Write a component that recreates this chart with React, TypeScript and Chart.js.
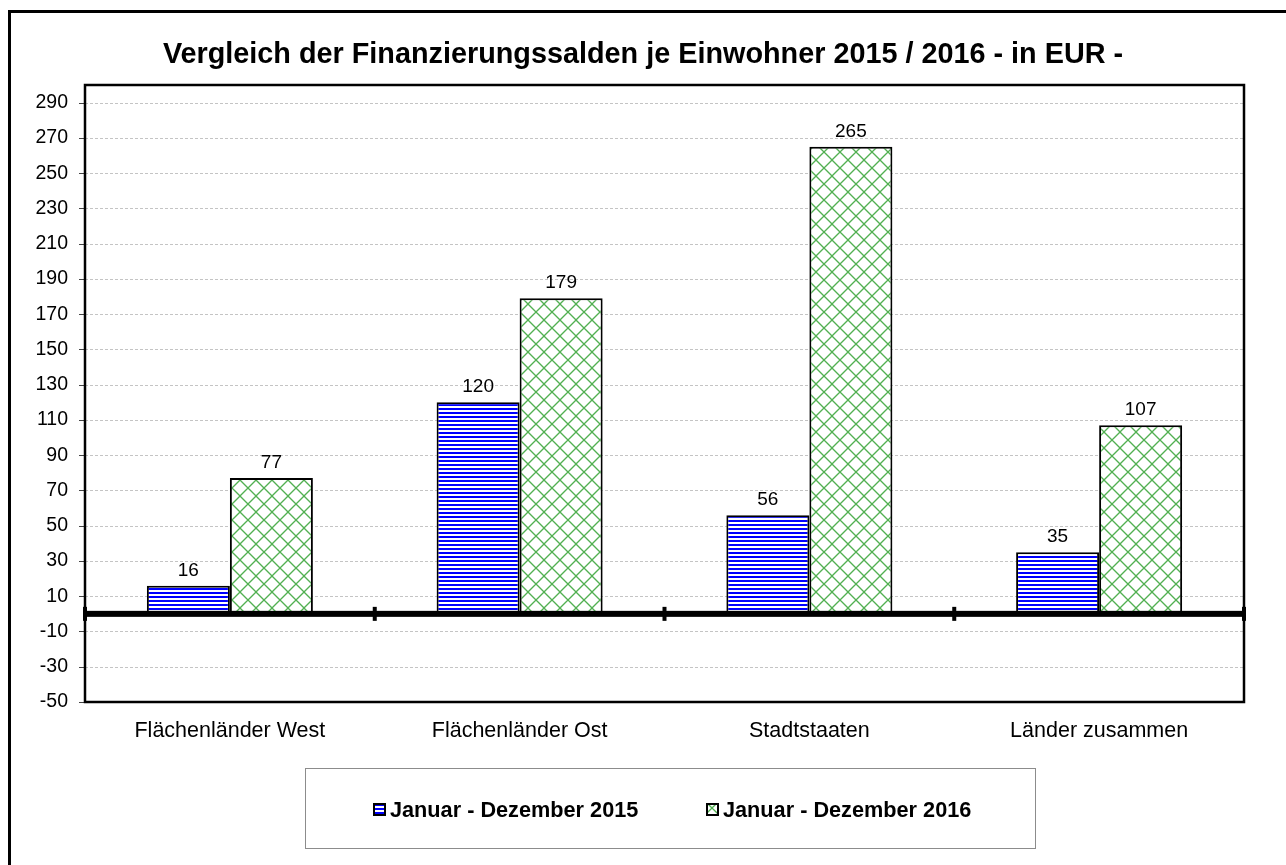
import { useEffect, useRef } from "react";
import { Chart, registerables } from "chart.js";

Chart.register(...registerables);

const chartTitle = "Vergleich der Finanzierungssalden je Einwohner 2015 / 2016 - in EUR -";
const categories = ["Flächenländer West", "Flächenländer Ost", "Stadtstaaten", "Länder zusammen"];
const seriesLabels = ["Januar - Dezember 2015", "Januar - Dezember 2016"];
const values2015 = [16, 120, 56, 35];
const values2016 = [77, 179, 265, 107];
const yTicks = [-50, -30, -10, 10, 30, 50, 70, 90, 110, 130, 150, 170, 190, 210, 230, 250, 270, 290];
const yMin = -50;
const yMax = 300;

const FONT = '"Liberation Sans", Arial, Helvetica, sans-serif';

function makeStripePattern(ctx: CanvasRenderingContext2D): CanvasPattern | string {
  const c = document.createElement("canvas");
  c.width = 4;
  c.height = 4;
  const g = c.getContext("2d")!;
  g.fillStyle = "#ffffff";
  g.fillRect(0, 0, 4, 4);
  g.fillStyle = "#0000ff";
  g.fillRect(0, 0, 4, 2);
  return ctx.createPattern(c, "repeat") || "#0000ff";
}

function makeCrossPattern(ctx: CanvasRenderingContext2D): CanvasPattern | string {
  const s = 16;
  const c = document.createElement("canvas");
  c.width = s;
  c.height = s;
  const g = c.getContext("2d")!;
  g.fillStyle = "#ffffff";
  g.fillRect(0, 0, s, s);
  g.strokeStyle = "#52b052";
  g.lineWidth = 1.3;
  for (let k = -1; k <= 1; k++) {
    g.beginPath();
    g.moveTo(-2, -2 + k * s);
    g.lineTo(s + 2, s + 2 + k * s);
    g.stroke();
  }
  for (let k = 0; k <= 2; k++) {
    g.beginPath();
    g.moveTo(-2, k * s + 2);
    g.lineTo(s + 2, k * s - s - 2);
    g.stroke();
  }
  return ctx.createPattern(c, "repeat") || "#52b052";
}

export default function App() {
  const canvasRef = useRef<HTMLCanvasElement | null>(null);

  useEffect(() => {
    const canvas = canvasRef.current;
    if (!canvas) return;
    const ctx0 = canvas.getContext("2d")!;
    const pat2015 = makeStripePattern(ctx0);
    const pat2016 = makeCrossPattern(ctx0);
    const patterns = [pat2015, pat2016];

    const decor = {
      id: "decor",
      beforeDraw(chart: any) {
        const ctx = chart.ctx as CanvasRenderingContext2D;
        ctx.save();
        ctx.fillStyle = "#ffffff";
        ctx.fillRect(0, 0, chart.width, chart.height);
        // outer frame
        ctx.strokeStyle = "#000";
        ctx.lineWidth = 3;
        ctx.strokeRect(9.5, 11.5, chart.width + 40, chart.height + 40);
        // title
        ctx.fillStyle = "#000";
        ctx.font = `bold 28.8px ${FONT}`;
        ctx.textAlign = "center";
        ctx.textBaseline = "alphabetic";
        ctx.fillText(chartTitle, 643, 63);
        // legend box
        ctx.strokeStyle = "#8c8c8c";
        ctx.lineWidth = 1;
        ctx.strokeRect(305.5, 768.5, 730, 80);
        const starts = [373, 706];
        ctx.font = `bold 21.7px ${FONT}`;
        ctx.textAlign = "left";
        seriesLabels.forEach((lab, i) => {
          const x = starts[i];
          ctx.fillStyle = patterns[i] as any;
          ctx.fillRect(x, 803, 13, 13);
          ctx.strokeStyle = "#000";
          ctx.lineWidth = 2;
          ctx.strokeRect(x + 1, 804, 11, 11);
          ctx.fillStyle = "#000";
          ctx.fillText(lab, x + 17, 817);
        });
        ctx.restore();
      },
      beforeDatasetsDraw(chart: any) {
        const ctx = chart.ctx as CanvasRenderingContext2D;
        const a = chart.chartArea;
        const y = chart.scales.y;
        ctx.save();
        ctx.lineWidth = 1;
        ctx.setLineDash([3, 2]);
        ctx.strokeStyle = "#c4c4c4";
        yTicks.forEach((v) => {
          const py = Math.round(y.getPixelForValue(v)) + 0.5;
          ctx.beginPath();
          ctx.moveTo(a.left, py);
          ctx.lineTo(a.right, py);
          ctx.stroke();
        });
        ctx.setLineDash([]);
        ctx.strokeStyle = "#444";
        yTicks.forEach((v) => {
          const py = Math.round(y.getPixelForValue(v)) + 0.5;
          ctx.beginPath();
          ctx.moveTo(a.left - 6, py);
          ctx.lineTo(a.left, py);
          ctx.stroke();
        });
        ctx.restore();
      },
      afterDatasetsDraw(chart: any) {
        const ctx = chart.ctx as CanvasRenderingContext2D;
        const a = chart.chartArea;
        const y = chart.scales.y;
        const x = chart.scales.x;
        ctx.save();
        // zero line
        const y0 = y.getPixelForValue(0);
        ctx.fillStyle = "#000";
        ctx.fillRect(a.left - 1, y0 - 3, a.right - a.left + 3, 6);
        // category boundary ticks
        const bounds: number[] = [a.left];
        for (let i = 0; i < categories.length - 1; i++) {
          bounds.push((x.getPixelForValue(i) + x.getPixelForValue(i + 1)) / 2);
        }
        bounds.push(a.right);
        bounds.forEach((bx) => {
          ctx.fillRect(bx - 2, y0 - 7, 4, 14);
        });
        // plot border
        ctx.strokeStyle = "#000";
        ctx.lineWidth = 2.5;
        ctx.strokeRect(a.left, a.top, a.right - a.left, a.bottom - a.top);
        // value labels
        ctx.fillStyle = "#000";
        ctx.font = `19px ${FONT}`;
        ctx.textAlign = "center";
        ctx.textBaseline = "alphabetic";
        chart.data.datasets.forEach((ds: any, i: number) => {
          const meta = chart.getDatasetMeta(i);
          meta.data.forEach((bar: any, j: number) => {
            ctx.fillText(String(ds.data[j]), bar.x, bar.y - 10);
          });
        });
        ctx.restore();
      },
    };

    const chart = new Chart(canvas, {
      type: "bar",
      data: {
        labels: categories,
        datasets: [
          {
            label: seriesLabels[0],
            data: values2015,
            backgroundColor: pat2015 as any,
            borderColor: "#000",
            borderWidth: 2,
            barPercentage: 1,
            categoryPercentage: 0.573,
          },
          {
            label: seriesLabels[1],
            data: values2016,
            backgroundColor: pat2016 as any,
            borderColor: "#000",
            borderWidth: 2,
            barPercentage: 1,
            categoryPercentage: 0.573,
          },
        ],
      },
      options: {
        responsive: false,
        animation: false,
        layout: { padding: { top: 85, right: 42, left: 0, bottom: 0 } },
        plugins: {
          legend: { display: false },
          title: { display: false },
          tooltip: { enabled: false },
        },
        scales: {
          x: {
            grid: { display: false },
            border: { display: false },
            ticks: {
              color: "#000",
              font: { family: FONT, size: 21.5 },
              padding: 8,
              maxRotation: 0,
              autoSkip: false,
            },
            afterFit: (s: any) => {
              s.height = 163;
            },
          },
          y: {
            min: yMin,
            max: yMax,
            grid: { display: true, color: "rgba(0,0,0,0)", drawTicks: false },
            border: { display: false },
            ticks: {
              color: "#000",
              font: { family: FONT, size: 19.5 },
              padding: 17,
              autoSkip: false,
            },
            afterBuildTicks: (s: any) => {
              s.ticks = yTicks.map((v) => ({ value: v }));
            },
            afterFit: (s: any) => {
              s.width = 85;
            },
          },
        },
      },
      plugins: [decor],
    });

    return () => {
      chart.destroy();
    };
  }, []);

  return (
    <div style={{ position: "fixed", left: 0, top: 0, width: 1286, height: 865 }}>
      <canvas ref={canvasRef} width={1286} height={865} style={{ display: "block" }} />
    </div>
  );
}
